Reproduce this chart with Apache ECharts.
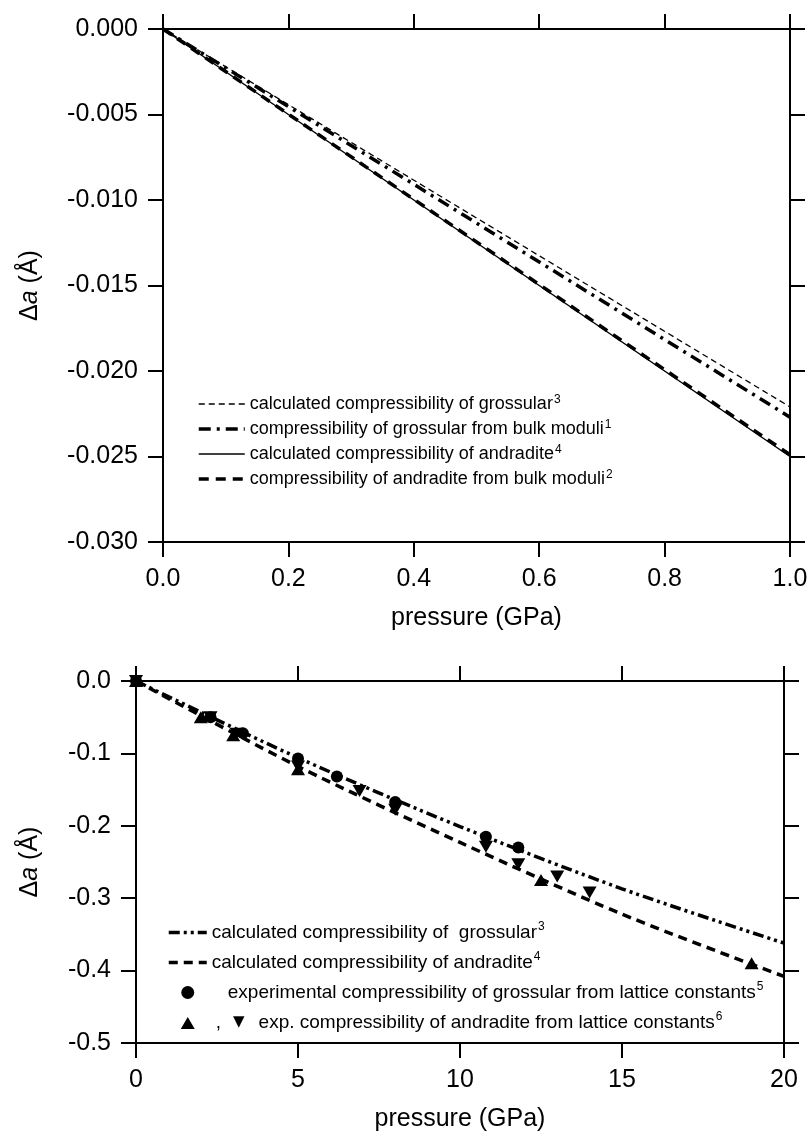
<!DOCTYPE html>
<html>
<head>
<meta charset="utf-8">
<script src="https://cdn.jsdelivr.net/npm/echarts@6/dist/echarts.min.js"></script>
<style>
  html, body { margin: 0; background: #fff; }
  #chart { width: 810px; height: 1139px; }
</style>
</head>
<body>
<div id="chart"></div>
<script>
// ---- upper panel (0 - 1 GPa), delta a in Angstrom ----
const pLow = [0, 1]
const grossCalcLow = [0, -0.0221]
const grossBulkLow = [0, -0.0227]
const andrCalcLow = [0, -0.0250]
const andrBulkLow = [0, -0.0249]

// ---- lower panel (0 - 20 GPa) ----
const pHigh = [0, 5, 10, 15, 20]
const grossCalcHigh = [0, -0.106, -0.201, -0.287, -0.362]
const andrCalcHigh = [0, -0.118, -0.223, -0.322, -0.408]

// experimental points
const grossExpP = [0, 2.3, 3.3, 5.0, 6.2, 8.0, 10.8, 11.8]
const grossExpA = [0, -0.050, -0.072, -0.107, -0.132, -0.167, -0.215, -0.230]
const andrUpP = [0, 2.0, 3.0, 5.0, 12.5, 19.0]
const andrUpA = [0, -0.050, -0.075, -0.122, -0.275, -0.390]
const andrDownP = [0, 2.3, 3.1, 5.0, 6.9, 8.0, 10.8, 11.8, 13.0, 14.0]
const andrDownA = [0, -0.050, -0.073, -0.118, -0.152, -0.178, -0.229, -0.253, -0.270, -0.292]

// legend texts [text, superscript]
const topLegend = [
  ['calculated compressibility of grossular', '3'],
  ['compressibility of grossular from bulk moduli', '1'],
  ['calculated compressibility of andradite', '4'],
  ['compressibility of andradite from bulk moduli', '2'],
]
const bottomLegend = [
  ['calculated compressibility of  grossular', '3'],
  ['calculated compressibility of andradite', '4'],
  ['experimental compressibility of grossular from lattice constants', '5'],
  ['exp. compressibility of andradite from lattice constants', '6'],
]

const FONT = '"Liberation Sans", Arial, Helvetica, sans-serif'
const zip = (xs, ys) => xs.map((x, i) => [x, ys[i]])

// line styles (used by series and legend samples)
const stThinDash = { color: '#000', width: 1.3, type: [6, 4] }
const stDashDot = { color: '#000', width: 3.5, type: [12, 6, 3, 6] }
const stSolid = { color: '#000', width: 1.5, type: 'solid' }
const stDash = { color: '#000', width: 3.5, type: [10, 7] }
const stDashDotDot = { color: '#000', width: 3.5, type: [11, 4, 3, 4, 3, 4] }
const stDashB = { color: '#000', width: 3.5, type: [9, 6] }

// 通用坐标轴设置
function axis(gridIndex, position, min, max, interval, fmt) {
  return {
    type: 'value',
    gridIndex,
    position,
    min,
    max,
    interval,
    axisLine: { show: true, onZero: false, lineStyle: { color: '#000', width: 2 } },
    axisTick: { show: true, inside: false, length: 15, lineStyle: { color: '#000', width: 2 } },
    splitLine: { show: false },
    axisLabel: { show: !!fmt, color: '#000', fontSize: 25, fontFamily: FONT, margin: 25, formatter: fmt },
  }
}

const yName = {
  name: '{n|Δ}{i|a}{n| (Å)}',
  nameLocation: 'middle',
  nameTextStyle: {
    rich: {
      n: { fontSize: 25, fontFamily: FONT, color: '#000' },
      i: { fontSize: 25, fontFamily: FONT, color: '#000', fontStyle: 'italic' },
    },
  },
}
const xName = {
  name: 'pressure (GPa)',
  nameLocation: 'middle',
  nameTextStyle: { fontSize: 25, fontFamily: FONT, color: '#000' },
}

const legendRich = (size, lh) => ({
  t: { fontSize: size, lineHeight: lh, fontFamily: FONT, color: '#000' },
  e: { fontSize: size, lineHeight: lh, fontFamily: FONT, color: '#000', padding: [0, 0, 0, 16] },
  c: { fontSize: size, lineHeight: lh, fontFamily: FONT, color: '#000', padding: [0, 0, 0, 4] },
  g: { fontSize: 15, lineHeight: lh, fontFamily: '"DejaVu Sans", sans-serif', color: '#000', padding: [0, 14, 0, 12] },
  s: { fontSize: 12, lineHeight: 12, fontFamily: FONT, color: '#000', verticalAlign: 'top', padding: [0, 0, 0, 1] },
})

const line = (name, data, style, xi, yi, smooth) => ({
  name,
  type: 'line',
  data,
  xAxisIndex: xi,
  yAxisIndex: yi,
  symbol: 'none',
  smooth: smooth || false,
  lineStyle: Object.assign({ cap: 'butt' }, style),
  itemStyle: { color: '#000' },
  z: 3,
})

const scatter = (name, data, symbol, size) => ({
  name,
  type: 'scatter',
  data,
  xAxisIndex: 2,
  yAxisIndex: 2,
  symbol,
  symbolSize: size,
  itemStyle: { color: '#000', opacity: 1 },
  z: 5,
})

// legend entry of a line: explicit line sample, hide the middle symbol
const lineEntry = (name, style) => ({ name, itemStyle: { opacity: 0 }, lineStyle: Object.assign({ cap: 'butt' }, style) })

const options = {
  animation: false,
  backgroundColor: '#fff',
  grid: [
    { left: 163, top: 29, width: 627, height: 513, outerBoundsMode: 'none' },
    { left: 136, top: 681, width: 648, height: 362, outerBoundsMode: 'none' },
  ],
  xAxis: [
    Object.assign(axis(0, 'bottom', 0, 1, 0.2, v => v.toFixed(1)), xName, { nameGap: 64 }),
    axis(0, 'top', 0, 1, 0.2),
    Object.assign(axis(1, 'bottom', 0, 20, 5, v => String(v)), xName, { nameGap: 64 }),
    axis(1, 'top', 0, 20, 5),
  ],
  yAxis: [
    Object.assign(axis(0, 'left', -0.03, 0, 0.005, v => v.toFixed(3)), yName, { nameGap: 120 }),
    axis(0, 'right', -0.03, 0, 0.005),
    Object.assign(axis(1, 'left', -0.5, 0, 0.1, v => v.toFixed(1)), yName, { nameGap: 93 }),
    axis(1, 'right', -0.5, 0, 0.1),
  ],
  legend: [
    {
      data: [
        lineEntry(topLegend[0][0], stThinDash),
        lineEntry(topLegend[1][0], stDashDot),
        lineEntry(topLegend[2][0], stSolid),
        lineEntry(topLegend[3][0], stDash),
      ],
      orient: 'vertical',
      left: 197,
      top: 394,
      padding: 0,
      itemWidth: 46,
      itemHeight: 14,
      itemGap: 6,
      selectedMode: false,
      formatter: n => {
        const d = topLegend.find(e => e[0] === n)
        return '{t|' + d[0] + '}{s|' + d[1] + '}'
      },
      textStyle: { rich: legendRich(18, 20) },
    },
    {
      data: [
        lineEntry(bottomLegend[0][0], stDashDotDot),
        lineEntry(bottomLegend[1][0], stDashB),
        { name: bottomLegend[2][0] },
        { name: bottomLegend[3][0], icon: 'path://M0,0 M38,13 M12,13 L19,1 L26,13 Z' },
      ],
      orient: 'vertical',
      left: 167,
      top: 921,
      padding: 0,
      itemWidth: 38,
      itemHeight: 13,
      itemGap: 9,
      selectedMode: false,
      formatter: n => {
        const i = bottomLegend.findIndex(e => e[0] === n)
        const d = bottomLegend[i]
        if (i === 2) return '{e|' + d[0] + '}{s|' + d[1] + '}'
        if (i === 3) return '{c|,}{g|▼}{t|' + d[0] + '}{s|' + d[1] + '}'
        return '{t|' + d[0] + '}{s|' + d[1] + '}'
      },
      textStyle: { rich: legendRich(19, 23) },
    },
  ],
  series: [
    line(topLegend[0][0], zip(pLow, grossCalcLow), stThinDash, 0, 0),
    line(topLegend[1][0], zip(pLow, grossBulkLow), stDashDot, 0, 0),
    line(topLegend[2][0], zip(pLow, andrCalcLow), stSolid, 0, 0),
    line(topLegend[3][0], zip(pLow, andrBulkLow), stDash, 0, 0),

    line(bottomLegend[0][0], zip(pHigh, grossCalcHigh), stDashDotDot, 2, 2, 0.3),
    line(bottomLegend[1][0], zip(pHigh, andrCalcHigh), stDashB, 2, 2, 0.3),
    scatter(bottomLegend[2][0], zip(grossExpP, grossExpA), 'circle', 12),
    scatter(bottomLegend[3][0], zip(andrUpP, andrUpA), 'triangle', [14, 12]),
    scatter('andradite down', zip(andrDownP, andrDownA), 'path://M0,0 L14,0 L7,12 Z', [14, 12]),
  ],
}

const chart = echarts.init(document.getElementById('chart'), null, { renderer: 'canvas' })
chart.setOption(options)
window.addEventListener('resize', () => chart.resize())
</script>
</body>
</html>
